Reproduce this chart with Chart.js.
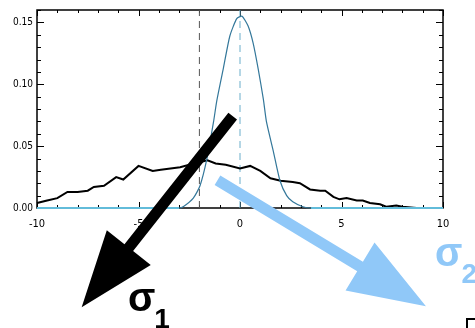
<!DOCTYPE html>
<html><head><meta charset="utf-8">
<script src="https://cdn.jsdelivr.net/npm/chart.js@4/dist/chart.umd.min.js"></script>
<style>html,body{margin:0;padding:0;background:#fff;overflow:hidden}</style>
</head><body>
<canvas id="c" width="475" height="328"></canvas>
<script>
// ---- data ----
const broadX = [-10,-9.5,-9.0,-8.5,-8.0,-7.5,-7.2,-6.7,-6.1,-5.75,-5.0,-4.3,-3.9,-2.95,-2.5,-2.0,-1.6,-1.2,-0.7,0,0.5,1.0,1.5,2.0,2.6,2.95,3.45,3.95,4.2,4.6,4.9,5.25,5.75,6.05,6.4,6.9,7.2,7.7,8.0,8.7,10];
const broadY = [0.004,0.006,0.008,0.013,0.013,0.014,0.017,0.018,0.025,0.023,0.034,0.030,0.031,0.033,0.035,0.037,0.0386,0.036,0.035,0.032,0.034,0.030,0.024,0.022,0.021,0.020,0.015,0.014,0.014,0.009,0.007,0.008,0.006,0.006,0.004,0.003,0.001,0.002,0.001,0.0,0.0];
const narrowX = [-10,-3.0,-2.8,-2.3,-1.97,-1.64,-1.3,-1.15,-0.83,-0.5,-0.16,0.1,0.4,0.65,0.9,1.15,1.3,1.64,1.97,2.3,2.6,3.1,3.5,10];
const narrowY = [0,0,0.001,0.008,0.018,0.039,0.070,0.086,0.112,0.139,0.153,0.155,0.147,0.133,0.112,0.088,0.070,0.046,0.022,0.010,0.005,0.001,0,0];
const markerLines = [-2, 0];
const xTickValues = [-10,-5,0,5,10];
const yTickValues = [0.00,0.05,0.10,0.15];
// overlay annotations (data units)
const arrowBlack = {from:[-0.36,0.0742], to:[-7.80,-0.0802]};
const arrowBlue  = {from:[-1.11,0.0224], to:[9.16,-0.0794]};
const sigmaLabels = [
  {main:'σ', sub:'1', at:[-5.52,-0.0832], color:'#000000'},
  {main:'σ', sub:'2', at:[9.61,-0.0472], color:'#90c8f8'}
];
const cornerBox = [11.18,-0.0896];

const pts = (xs, ys) => xs.map((x,i)=>({x, y:ys[i]}));
const tickFont = {family:"'Liberation Sans Narrow','Arial Narrow','DejaVu Sans Condensed',sans-serif", size:10};

function drawArrow(ctx, x0,y0,x1,y1, sw, hw, hl, color){
  const dx=x1-x0, dy=y1-y0, L=Math.hypot(dx,dy), ux=dx/L, uy=dy/L, px=-uy, py=ux;
  const bx=x1-ux*hl, by=y1-uy*hl;
  ctx.fillStyle=color;
  ctx.beginPath();
  ctx.moveTo(x0+px*sw/2, y0+py*sw/2);
  ctx.lineTo(bx+px*sw/2, by+py*sw/2);
  ctx.lineTo(bx+px*hw/2, by+py*hw/2);
  ctx.lineTo(x1,y1);
  ctx.lineTo(bx-px*hw/2, by-py*hw/2);
  ctx.lineTo(bx-px*sw/2, by-py*sw/2);
  ctx.lineTo(x0-px*sw/2, y0-py*sw/2);
  ctx.closePath(); ctx.fill();
}

const framePlugin = {
  id:'frame',
  beforeDatasetsDraw(chart){
    const ctx=chart.ctx, ca=chart.chartArea, xs=chart.scales.x, ys=chart.scales.y;
    ctx.save();
    ctx.strokeStyle='#000';
    ctx.lineWidth=1.5;
    ctx.strokeRect(ca.left, ca.top, ca.right-ca.left, ca.bottom-ca.top);
    ctx.lineWidth=1;
    ctx.beginPath();
    for(let v=-10; v<=10; v++){
      const p=Math.round(xs.getPixelForValue(v))+0.5, len=(v%5===0)?6:3;
      ctx.moveTo(p, ca.bottom); ctx.lineTo(p, ca.bottom-len);
      ctx.moveTo(p, ca.top); ctx.lineTo(p, ca.top+len);
    }
    for(let i=0;i<=16;i++){
      const p=Math.round(ys.getPixelForValue(i/100))+0.5, len=(i%5===0)?7:4;
      ctx.moveTo(ca.left, p); ctx.lineTo(ca.left+len, p);
      ctx.moveTo(ca.right, p); ctx.lineTo(ca.right-len, p);
    }
    ctx.stroke();
    ctx.restore();
  },
  afterDraw(chart){
    const ctx=chart.ctx, xs=chart.scales.x, ys=chart.scales.y;
    const P=(a)=>[xs.getPixelForValue(a[0]), ys.getPixelForValue(a[1])];
    ctx.save();
    let a=P(arrowBlack.from), b=P(arrowBlack.to);
    drawArrow(ctx,a[0],a[1],b[0],b[1],11,56,76,'#000000');
    a=P(arrowBlue.from); b=P(arrowBlue.to);
    drawArrow(ctx,a[0],a[1],b[0],b[1],11,56,77,'#90c8f8');
    ctx.textBaseline='alphabetic'; ctx.textAlign='left';
    sigmaLabels.forEach(s=>{
      const p=P(s.at);
      ctx.fillStyle=s.color;
      ctx.font="bold 40px 'Liberation Sans', Arial, sans-serif";
      ctx.fillText(s.main, p[0], p[1]);
      const w=ctx.measureText(s.main).width;
      ctx.font="bold 28px 'Liberation Sans', Arial, sans-serif";
      ctx.fillText(s.sub, p[0]+w-1, p[1]+17);
    });
    const c=P(cornerBox);
    ctx.strokeStyle='#000'; ctx.lineWidth=2;
    ctx.strokeRect(Math.round(c[0]), Math.round(c[1]), 30, 30);
    ctx.restore();
  }
};

new Chart(document.getElementById('c'), {
  type:'line',
  data:{datasets:[
    {data:pts(narrowX,narrowY), borderColor:'#33779a', borderWidth:1.2, pointRadius:0, tension:0.2, clip:false,
     segment:{borderColor:c=>(c.p0.parsed.y===0 && c.p1.parsed.y===0)?'#62bcda':undefined,
              borderWidth:c=>(c.p0.parsed.y===0 && c.p1.parsed.y===0)?2:undefined}},
    {data:pts(broadX,broadY), borderColor:'#000000', borderWidth:2, pointRadius:0, tension:0, clip:false},
    {data:[{x:markerLines[0],y:0},{x:markerLines[0],y:0.16}], borderColor:'#555555', borderWidth:1, borderDash:[7,5], pointRadius:0},
    {data:[{x:markerLines[1],y:0},{x:markerLines[1],y:0.16}], borderColor:'#6aaecb', borderWidth:1, borderDash:[7,5], pointRadius:0}
  ]},
  options:{
    responsive:false, animation:false, events:[],
    layout:{padding:{top:8,right:32,left:0,bottom:0}},
    plugins:{legend:{display:false}, tooltip:{enabled:false}},
    scales:{
      x:{type:'linear', min:-10, max:10,
         afterBuildTicks:s=>{s.ticks=xTickValues.map(v=>({value:v}));},
         afterFit:s=>{s.height=120;},
         ticks:{font:{...tickFont,size:11}, color:'#000', padding:10, maxRotation:0, autoSkip:false, callback:v=>String(v)},
         grid:{display:false, drawTicks:false}, border:{display:false}},
      y:{type:'linear', min:0, max:0.16,
         afterBuildTicks:s=>{s.ticks=yTickValues.map(v=>({value:v}));},
         afterFit:s=>{s.width=37;},
         ticks:{font:tickFont, color:'#000', padding:4, callback:v=>Number(v).toFixed(2)},
         grid:{display:false, drawTicks:false}, border:{display:false}}
    }
  },
  plugins:[framePlugin]
});
</script>
</body></html>
